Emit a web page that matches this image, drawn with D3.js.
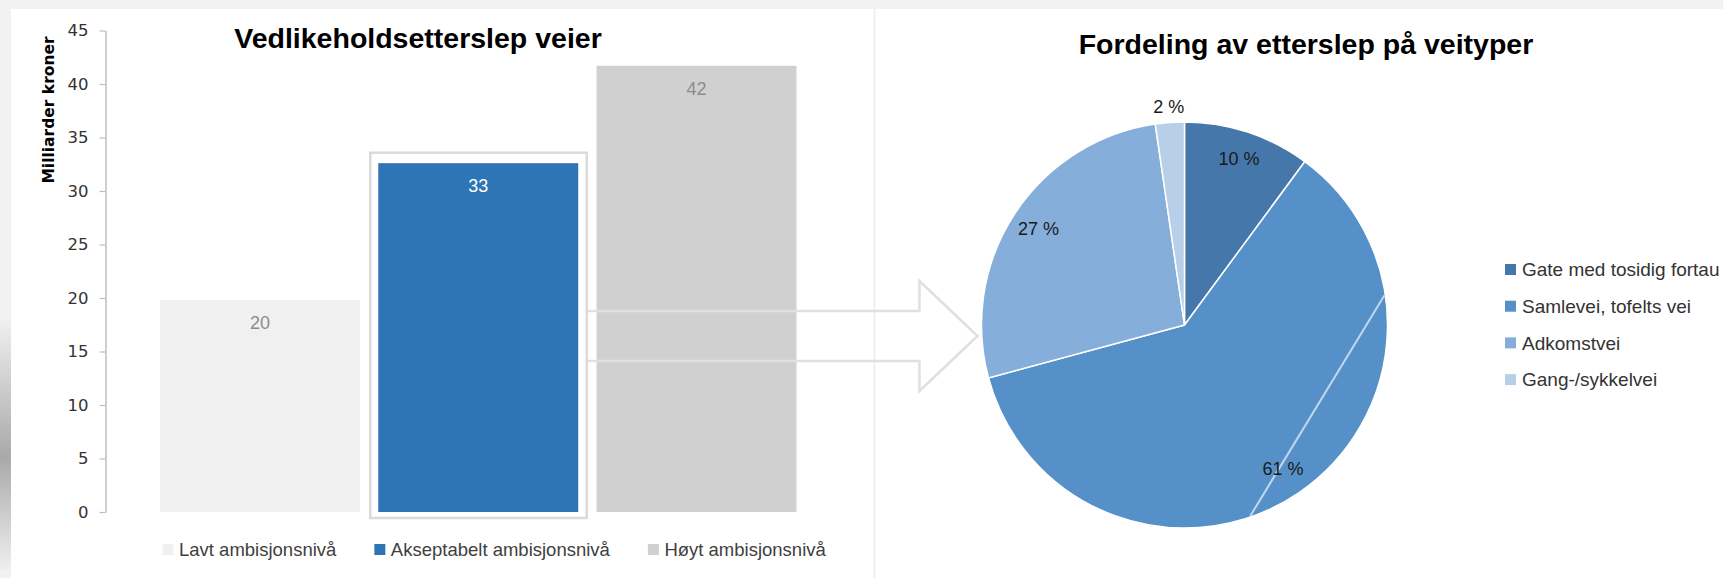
<!DOCTYPE html>
<html>
<head>
<meta charset="utf-8">
<script src="https://cdn.jsdelivr.net/npm/d3@7"></script>
<style>
  body { margin: 0; background: #f2f2f2; }
  svg { display: block; }
</style>
</head>
<body>
<div class="chart"></div>
<script>
// bar chart data (Milliarder kroner)
var barCategories = ["Lavt ambisjonsnivå", "Akseptabelt ambisjonsnivå", "Høyt ambisjonsnivå"];
var barValues = [19.8, 32.6, 41.7];
var barColors = ["#f0f0f0", "#2e75b6", "#d0d0d0"];
var barLabelColors = ["#8c8c8c", "#ffffff", "#8c8c8c"];
var yTicks = [0, 5, 10, 15, 20, 25, 30, 35, 40, 45];
var highlighted = "Akseptabelt ambisjonsnivå";

// pie data (share of backlog by road type, %)
var pieCategories = ["Gate med tosidig fortau", "Samlevei, tofelts vei", "Adkomstvei", "Gang-/sykkelvei"];
var pieValues = [10.1, 60.7, 26.9, 2.3];
var pieColors = ["#4677aa", "#5591c8", "#85aedb", "#b8cfe9"];

var W = 1723, H = 578;

var svg = d3.select(".chart").append("svg")
    .attr("width", W)
    .attr("height", H);

// slide background
var defs = svg.append("defs");
var grad = defs.append("linearGradient")
    .attr("id", "edge")
    .attr("x1", 0).attr("y1", 0).attr("x2", 0).attr("y2", 1);
grad.append("stop").attr("offset", "0%").attr("stop-color", "#f0f0f0");
grad.append("stop").attr("offset", "55%").attr("stop-color", "#a9a9a9");
grad.append("stop").attr("offset", "100%").attr("stop-color", "#efefef");

svg.append("rect").attr("width", W).attr("height", H).attr("fill", "#f2f2f2");
svg.append("rect").attr("x", 0).attr("y", 320).attr("width", 11).attr("height", 250).attr("fill", "url(#edge)");
svg.append("rect").attr("x", 11).attr("y", 9).attr("width", W - 11).attr("height", H - 9).attr("fill", "#ffffff");
svg.append("line")
    .attr("x1", 874.5).attr("x2", 874.5).attr("y1", 9).attr("y2", H)
    .attr("stroke", "#ececec").attr("stroke-width", 1.5);

// ---------- bar chart ----------
var y = d3.scaleLinear()
    .domain([0, 45])
    .range([512, 30.5]);

var x = d3.scaleBand()
    .domain(barCategories)
    .range([160, 796.5])
    .paddingInner(0.084)
    .paddingOuter(0);

var yAxis = d3.axisLeft(y)
    .tickValues(yTicks)
    .tickSize(6)
    .tickSizeOuter(0)
    .tickPadding(11);

var gy = svg.append("g")
    .attr("class", "y axis")
    .attr("transform", "translate(105.5,0)")
    .call(yAxis);
gy.select(".domain").attr("stroke", "#bfbfbf").attr("stroke-width", 1.5);
gy.selectAll(".tick line").attr("stroke", "#bfbfbf").attr("stroke-width", 1.2);
gy.selectAll(".tick text")
    .attr("fill", "#333")
    .style("font-family", "'DejaVu Sans', sans-serif")
    .style("font-size", "16.5px");

svg.append("text")
    .attr("transform", "translate(54,110) rotate(-90)")
    .attr("text-anchor", "middle")
    .style("font-family", "'DejaVu Sans', sans-serif")
    .style("font-weight", "bold")
    .style("font-size", "15.5px")
    .attr("fill", "#000")
    .text("Milliarder kroner");

svg.append("text")
    .attr("x", 418)
    .attr("y", 48)
    .attr("text-anchor", "middle")
    .style("font-family", "'Liberation Sans', Arial, sans-serif")
    .style("font-weight", "bold")
    .style("font-size", "28.5px")
    .attr("fill", "#000")
    .text("Vedlikeholdsetterslep veier");

svg.selectAll(".bar")
    .data(barCategories)
    .enter().append("rect")
    .attr("class", "bar")
    .attr("x", function(d){ return x(d); })
    .attr("y", function(d, i){ return y(barValues[i]); })
    .attr("width", x.bandwidth())
    .attr("height", function(d, i){ return y(0) - y(barValues[i]); })
    .attr("fill", function(d, i){ return barColors[i]; });

svg.selectAll(".barlabel")
    .data(barCategories)
    .enter().append("text")
    .attr("class", "barlabel")
    .attr("x", function(d){ return x(d) + x.bandwidth() / 2; })
    .attr("y", function(d, i){ return y(barValues[i]) + 29; })
    .attr("text-anchor", "middle")
    .style("font-family", "'Liberation Sans', Arial, sans-serif")
    .style("font-size", "18px")
    .attr("fill", function(d, i){ return barLabelColors[i]; })
    .text(function(d, i){ return d3.format(".0f")(barValues[i]); });

// highlight box around the chosen bar
var hi = barCategories.indexOf(highlighted);
var boxX0 = x(highlighted) - 8,
    boxX1 = x(highlighted) + x.bandwidth() + 8.5;
svg.append("rect")
    .attr("x", boxX0)
    .attr("y", y(barValues[hi]) - 10.5)
    .attr("width", boxX1 - boxX0)
    .attr("height", y(0) + 6 - (y(barValues[hi]) - 10.5))
    .attr("fill", "none")
    .attr("stroke", "#dadada")
    .attr("stroke-width", 2.5);

// bar legend
var legX = 162.5;
barCategories.forEach(function(d, i){
    var g = svg.append("g").attr("transform", "translate(" + legX + ",544)");
    g.append("rect").attr("width", 11).attr("height", 11).attr("fill", barColors[i]);
    var t = g.append("text")
        .attr("x", 16.5)
        .attr("y", 12)
        .style("font-family", "'Liberation Sans', Arial, sans-serif")
        .style("font-size", "18.5px")
        .attr("fill", "#404040")
        .text(d);
    legX += 16.5 + t.node().getComputedTextLength() + 38;
});

// ---------- pie chart ----------
var cx = 1184.5, cy = 325, r = 203;

var pie = d3.pie().sort(null).value(function(d){ return d; });
var arcs = pie(pieValues);
var arc = d3.arc().innerRadius(0).outerRadius(r);

// arrow from highlighted bar to the pie
var tipX = cx - r - 4, headX = tipX - 58, midY = cy + 11;
var arrow = d3.path();
arrow.moveTo(boxX1, midY - 25);
arrow.lineTo(headX, midY - 25);
arrow.lineTo(headX, midY - 55);
arrow.lineTo(tipX, midY);
arrow.lineTo(headX, midY + 55);
arrow.lineTo(headX, midY + 25);
arrow.lineTo(boxX1, midY + 25);
svg.append("path")
    .attr("d", arrow.toString())
    .attr("fill", "none")
    .attr("stroke", "#e0e0e0")
    .attr("stroke-width", 2.5);

var gp = svg.append("g").attr("transform", "translate(" + cx + "," + cy + ")");

gp.selectAll(".slice")
    .data(arcs)
    .enter().append("path")
    .attr("class", "slice")
    .attr("d", arc)
    .attr("fill", function(d, i){ return pieColors[i]; })
    .attr("stroke", "#ffffff")
    .attr("stroke-width", 1.5);

// light seam inside the large slice
var s0 = d3.pointRadial(81.6 * Math.PI / 180, r - 1),
    s1 = d3.pointRadial(161 * Math.PI / 180, r - 1);
gp.append("line")
    .attr("x1", s0[0]).attr("y1", s0[1])
    .attr("x2", s1[0]).attr("y2", s1[1])
    .attr("stroke", "#c3d6ec")
    .attr("stroke-width", 2);

gp.selectAll(".pielabel")
    .data(arcs)
    .enter().append("text")
    .attr("class", "pielabel")
    .attr("transform", function(d){
        var mid = (d.startAngle + d.endAngle) / 2;
        var rr = (d.endAngle - d.startAngle) < 0.3 ? r * 1.08 : r * 0.86;
        var p = d3.pointRadial(mid, rr);
        return "translate(" + p[0] + "," + p[1] + ")";
    })
    .attr("dy", "0.35em")
    .attr("text-anchor", "middle")
    .style("font-family", "'Liberation Sans', Arial, sans-serif")
    .style("font-size", "18px")
    .attr("fill", "#1a1a1a")
    .text(function(d){ return d3.format(".0f")(d.value) + " %"; });

svg.append("text")
    .attr("x", 1306)
    .attr("y", 53.5)
    .attr("text-anchor", "middle")
    .style("font-family", "'Liberation Sans', Arial, sans-serif")
    .style("font-weight", "bold")
    .style("font-size", "28.5px")
    .attr("fill", "#000")
    .text("Fordeling av etterslep på veityper");

// pie legend
var pl = svg.selectAll(".pieleg")
    .data(pieCategories)
    .enter().append("g")
    .attr("class", "pieleg")
    .attr("transform", function(d, i){ return "translate(1505," + (269.5 + i * 36.7) + ")"; });
pl.append("rect")
    .attr("y", -5.5)
    .attr("width", 11)
    .attr("height", 11)
    .attr("fill", function(d, i){ return pieColors[i]; });
pl.append("text")
    .attr("x", 17)
    .attr("dy", "0.35em")
    .style("font-family", "'Liberation Sans', Arial, sans-serif")
    .style("font-size", "19px")
    .attr("fill", "#333")
    .text(function(d){ return d; });
</script>
</body>
</html>
